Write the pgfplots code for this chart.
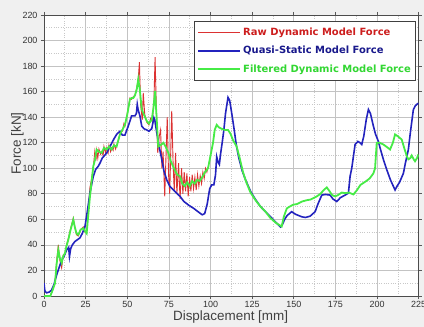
\documentclass[border=0pt]{standalone}
\usepackage{fontspec}
\setmainfont{Liberation Sans}
\newfontfamily\legfont{DejaVu Sans}
\usepackage{pgfplots}
\pgfplotsset{compat=1.18}
\definecolor{bgc}{RGB}{240,240,240}
\definecolor{gridc}{RGB}{195,195,195}
\definecolor{mgridc}{RGB}{200,200,200}
\definecolor{rawc}{RGB}{220,50,50}
\definecolor{qsc}{RGB}{35,35,190}
\definecolor{filc}{RGB}{70,235,70}
\definecolor{rawt}{RGB}{205,30,30}
\definecolor{qst}{RGB}{25,25,140}
\definecolor{filt}{RGB}{50,215,50}
\begin{document}
\begin{tikzpicture}
\fill[bgc] (-44bp,-31bp) rectangle (380bp,296bp);
\path[use as bounding box] (-44bp,-31bp) rectangle (380bp,296bp);
\begin{axis}[
  at={(0,0)}, anchor=south west,
  scale only axis, width=374.7bp, height=281bp,
  xmin=0, xmax=225, ymin=0, ymax=220,
  xtick={0,25,...,225}, ytick={0,20,...,220},
  minor x tick num=1, minor y tick num=1,
  grid=both,
  major grid style={color=gridc, line width=0.7bp},
  minor grid style={color=mgridc, dotted, line width=0.7bp},
  minor tick length=0pt,
  major tick length=3bp,
  tick align=outside,
  tick style={color=black!65, line width=0.7bp},
  axis line style={color=black!70, line width=0.9bp},
  axis background/.style={fill=white},
  /pgf/number format/assume math mode=true,
  tick label style={font=\fontsize{9}{10}\selectfont, color=black!80},
  xticklabel style={yshift=1bp},
  xlabel={Displacement [mm]}, ylabel={Force [kN]},
  label style={font=\fontsize{13.5}{15}\selectfont, color=black!75},
  xlabel style={at={(rel axis cs:0.498,-0.0745)}, anchor=center},
  ylabel style={at={(rel axis cs:-0.0707,0.5427)}, anchor=center},
  legend style={at={(rel axis cs:0.4003,0.9797)}, anchor=north west,
    draw=black!75, line width=0.9bp, fill=white,
    font=\legfont\bfseries\fontsize{10}{12}\selectfont,
    row sep=5.5bp, inner xsep=3bp, inner ysep=4.5bp,
    cells={anchor=west}},
  legend image code/.code={\draw[#1] (0bp,0bp) -- (42bp,0bp);},
]
\addplot[rawc, line width=0.9bp] coordinates {
(0,0) (3.8,0) (5,4) (6.6,10) (7.5,26) (8.6,40) (9.5,28) (10.6,22) (11.5,32) (12.6,33)
(13.5,40) (14.6,45) (16,53) (17.6,61) (18.5,54) (19.5,48) (20.6,47) (22,52) (23.6,54)
(24.5,50) (25.6,50) (26.5,65) (27.6,85) (28.6,92) (29.6,100) (30.5,113) (31.2,106)
(31.6,114) (32.3,108) (33,115) (34,111) (34.7,113) (35.5,110) (36,117) (37,112)
(37.7,116) (38.5,112) (39,118) (40,113) (40.6,116) (41.5,114) (42,119) (43,115)
(43.6,118) (44.6,121) (45.6,127) (47,129) (48,135) (48.6,133) (50,143) (51,150)
(51.6,155) (52.6,154) (53.6,156) (54.6,157) (55.7,163) (56.6,170) (57.3,183) (58,150)
(59,138) (59.6,159) (60.5,142) (61.7,136) (63,134) (64,139) (65,137) (66,152)
(66.7,187) (67.5,145) (68.3,112) (69.2,125) (70,130) (70.8,100) (71.5,113) (72.5,78)
(74,140) (74.8,95) (75.5,80) (76.7,145) (77.5,105) (78.2,82) (79,112) (79.8,80)
(80.8,104) (81.7,76) (82.6,100) (83.4,80) (84.2,97) (85,82) (85.8,96) (86.6,78)
(87.4,93) (88.2,82) (89,95) (89.8,84) (90.6,93) (91.4,83) (92.2,95) (93,86)
(93.8,94) (94.6,88) (95.4,97) (96.2,92) (97,100) (97.8,97) (98.5,101)
};
\addlegendentry{\textcolor{rawt}{Raw Dynamic Model Force}}
\addplot[qsc, line width=1.6bp] coordinates {
(0,10) (0.5,4) (1.5,2.5) (3,3) (4.5,4.5) (6,9) (7.6,16.5) (9,22) (10.6,28) (12,31)
(13.6,36) (14.8,38) (15.3,31) (16,37) (17,40) (18.6,42.7) (20,44) (21.6,45.5) (23,49)
(24.6,54.4) (26,66) (27.6,80.7) (29.6,93.7) (31,99) (32.6,101.6) (33.6,104) (35,108)
(37.7,112) (38.6,114.7) (40,118) (42,123) (43.6,126.5) (45.6,129) (47,126) (48.6,126)
(50.6,133) (52.6,141) (54.6,141) (55.5,143) (56,150) (56.5,146) (57.6,141) (58.7,133)
(60,131) (61.7,130) (63,129) (64.7,131) (66,139.6) (66.5,138) (67.7,128) (69,118)
(70.7,107) (72,98) (73.7,91) (75.5,86) (77.7,83) (80,80) (81.7,78) (84,74) (87,71)
(90,68.5) (93,65.5) (95,63.6) (96.5,64.5) (98,72) (99.5,84) (100.7,87) (102,87)
(103,95) (103.7,109) (104.5,105) (105.3,103) (106,111) (107,120) (108,130) (109,143)
(110.5,155.5) (111.5,153) (112.5,145) (114,132) (115.5,118) (117,108) (119,98)
(121,91) (124,82) (127,75.5) (130,70) (133,66) (136,62) (139,58) (142,54) (143,55.5)
(144.5,60) (146,63) (148.7,66) (151,64) (154.8,62) (157,61.5) (159.8,62.5) (162.8,66)
(164.5,72) (166.8,79) (169,79.5) (171.8,79) (173.5,76) (175.8,74) (178,77) (180.8,79)
(182.8,80.6) (183.8,93.7) (184.8,100) (186.8,118.6) (188.5,121) (189.8,120)
(190.8,118.6) (192,125) (193.5,138) (194.8,146) (196,143) (197.8,133) (199,127)
(200.8,121) (202,115) (204,106) (205.8,99) (208,91) (210.8,83) (212,86) (213.5,89)
(215.8,96) (217,104) (218.8,114.7) (220,128) (221.8,146) (223,149) (224.8,151)
};
\addlegendentry{\textcolor{qst}{Quasi-Static Model Force}}
\addplot[filc, line width=1.8bp] coordinates {
(0,0) (3.8,0) (5,4) (6.6,10) (7.5,24) (8.6,36) (9.5,30) (10.6,26) (11.5,31) (12.6,33.5)
(13.5,39) (14.6,44) (16,52) (17.6,59.7) (18.5,54) (19.5,49) (20.6,48) (22,52) (23.6,53)
(24.5,51) (25.6,49) (26.5,62) (27.6,78) (28.6,90) (29.6,101.6) (30.5,106) (31.6,114.7)
(33,113) (34.7,112) (36,116) (37.7,114.7) (39,117) (40.6,114.7) (42,118) (43.6,117)
(44.6,122) (45.6,126.5) (47,130) (48.6,134) (50,142) (51.6,154) (52.6,155) (53.6,155)
(54.6,157) (55.7,161.8) (56.6,169.7) (57.5,162) (58.7,146) (60,142) (61.7,137) (63,135)
(64.7,138) (65.7,147) (66.7,160.5) (67.6,140) (68.6,117) (70,118) (71.7,120) (73,117)
(74.7,112) (76,106) (78,100) (80,95) (81.7,93.7) (83,88) (84.5,86) (86,89) (87.5,86)
(89,90) (90.5,88) (92,91) (93.5,90) (95,93) (96.5,96.6) (98.5,100) (100,110)
(101.5,120) (102.5,130) (103.7,134) (105,132) (106.5,131) (108.5,130) (110.5,130)
(112,127) (113.5,122) (115.7,117) (117.5,108) (119.5,97) (121.5,89) (124,81) (127,75)
(130,70) (133,66) (136,61) (139,57.5) (142.7,54.4) (144,62) (145.8,68.6) (147.5,70)
(149.7,71.5) (152,72) (155,74) (157.8,75) (160,75.5) (163.8,78) (166,80) (168,83)
(169.8,85) (171.5,82) (173,79) (174.8,78) (176.5,79) (178.8,81) (181,80.5) (183,81)
(185.8,79.5) (188,83) (190,87) (191.8,88.5) (193.5,90) (195.5,92) (197.8,96)
(198.8,100) (199.8,120) (201.5,120) (203.8,118.6) (205.5,117) (207.8,114.7)
(209.5,120) (210.8,126.5) (212.5,125) (214.8,122.5) (216.5,115) (218,109) (218.8,107)
(220,108) (220.8,110) (222,107) (222.8,105.5) (224,108) (224.8,110.8)
};
\addlegendentry{\textcolor{filt}{Filtered Dynamic Model Force}}
\end{axis}
\end{tikzpicture}
\end{document}
